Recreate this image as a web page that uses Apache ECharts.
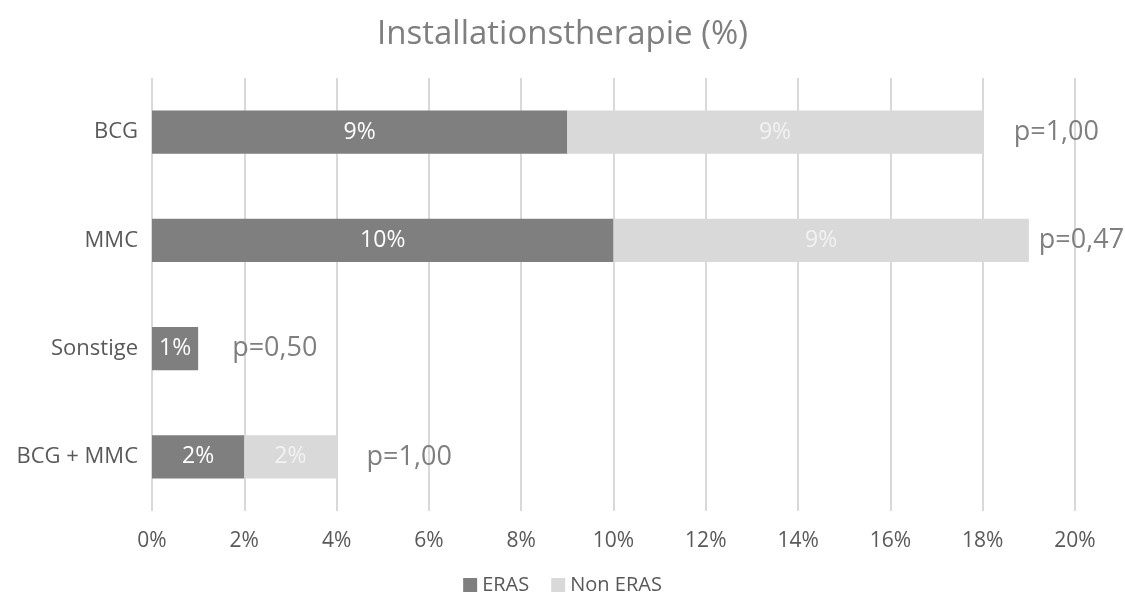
<!DOCTYPE html>
<html><head><meta charset="utf-8">
<script src="https://cdn.jsdelivr.net/npm/echarts@6/dist/echarts.min.js"></script>
<style>html,body{margin:0;padding:0;background:#fff}#c{width:1125px;height:597px}</style>
</head><body><div id="c"></div>
<script>
const categories = ['BCG', 'MMC', 'Sonstige', 'BCG + MMC'];
const erasValues = [9, 10, 1, 2];
const nonErasValues = [9, 9, 0, 2];
const pLabels = ['p=1,00', 'p=0,47', 'p=0,50', 'p=1,00'];
const pDistances = [31, 10, 34, 30];
const xTicks = [0, 2, 4, 6, 8, 10, 12, 14, 16, 18, 20];

const FONT = '"Open Sans", sans-serif';
const chart = echarts.init(document.getElementById('c'));
chart.setOption({
  animation: false,
  textStyle: { fontFamily: FONT },
  title: { text: 'Installationstherapie (%)', left: 'center', top: 13,
    textStyle: { fontFamily: FONT, fontSize: 33, fontWeight: 'normal', color: '#7f7f7f' } },
  legend: { data: ['ERAS', 'Non ERAS'], bottom: -3, left: 'center', itemWidth: 14, itemHeight: 14, itemGap: 22,
    icon: 'rect', textStyle: { fontFamily: FONT, fontSize: 20, color: '#595959' } },
  grid: { left: 152, right: 50, top: 78, bottom: 86, containLabel: false },
  xAxis: { type: 'value', min: xTicks[0], max: xTicks[xTicks.length - 1], interval: 2,
    axisLabel: { formatter: '{value}%', fontSize: 21, color: '#595959', margin: 20 },
    axisLine: { show: false }, axisTick: { show: false },
    splitLine: { lineStyle: { color: '#d9d9d9', width: 2 } } },
  yAxis: { type: 'category', data: categories, inverse: true,
    axisLabel: { fontSize: 22, color: '#595959', margin: 14 },
    axisLine: { show: false }, axisTick: { show: false } },
  series: [
    { name: 'ERAS', type: 'bar', stack: 's', barWidth: '40%', data: erasValues,
      itemStyle: { color: '#7f7f7f' },
      label: { show: true, position: 'inside', formatter: p => p.value > 0 ? p.value + '%' : '',
        color: '#ffffff', fontSize: 23 } },
    { name: 'Non ERAS', type: 'bar', stack: 's', barWidth: '40%', data: nonErasValues,
      itemStyle: { color: '#d9d9d9' },
      label: { show: true, position: 'inside', formatter: p => p.value > 0 ? p.value + '%' : '',
        color: '#f2f2f2', fontSize: 23 } },
    { name: 'p', type: 'bar', stack: 's', barWidth: '40%', silent: true,
      data: pLabels.map((t, i) => ({ value: 0, label: { distance: pDistances[i] } })),
      itemStyle: { color: 'transparent' },
      label: { show: true, position: 'right', formatter: p => pLabels[p.dataIndex],
        color: '#7f7f7f', fontSize: 27 } }
  ]
});
</script></body></html>
